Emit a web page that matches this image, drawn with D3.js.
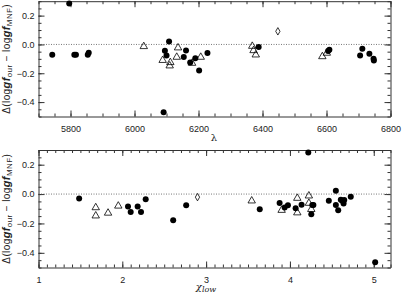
<!DOCTYPE html>
<html>
<head>
<meta charset="utf-8">
<script src="https://cdn.jsdelivr.net/npm/d3@7"></script>
<style>
  body { margin: 0; background: #fff; }
  svg { display: block; font-family: "Liberation Sans", Arial, sans-serif; }
  .axis text { font-size: 9px; fill: #222; }
  .axis path, .axis line { stroke: #333; }
</style>
</head>
<body>
<div id="chart"></div>
<script>
// top panel: wavelength vs difference
const lamCircles = [5743, 5796, 5812, 5817, 5854, 5857, 6091, 6095, 6100, 6108, 6154, 6161, 6174, 6190, 6202, 6228, 6388, 6605, 6609, 6705, 6712, 6734, 6747, 6748];
const lamCirclesD = [-0.072, 0.284, -0.072, -0.072, -0.072, -0.058, -0.470, -0.044, -0.077, 0.021, -0.088, -0.042, -0.125, -0.095, -0.181, -0.060, -0.018, -0.045, -0.037, -0.077, -0.030, -0.065, -0.100, -0.111];
const lamTriangles = [6029, 6088, 6110, 6112, 6132, 6136, 6180, 6207, 6368, 6372, 6379, 6587, 6601];
const lamTrianglesD = [-0.014, -0.110, -0.148, -0.125, -0.088, -0.023, -0.130, -0.088, -0.012, -0.042, -0.072, -0.084, -0.060];
const lamDiamonds = [6448];
const lamDiamondsD = [0.091];

// bottom panel: excitation potential vs difference
const chiCircles = [1.485, 2.068, 2.10, 2.183, 2.223, 2.279, 2.607, 2.762, 3.64, 3.877, 3.937, 3.976, 4.068, 4.139, 4.219, 4.255, 4.267, 4.28, 4.464, 4.548, 4.548, 4.576, 4.607, 4.624, 4.648, 4.64, 4.726, 5.017];
const chiCirclesD = [-0.030, -0.085, -0.122, -0.085, -0.122, -0.035, -0.179, -0.076, -0.104, -0.060, -0.092, -0.076, -0.097, -0.072, 0.283, -0.138, -0.074, -0.074, -0.046, 0.023, -0.074, -0.110, -0.039, -0.046, -0.041, -0.065, -0.019, -0.465];
const chiTriangles = [1.683, 1.683, 1.83, 1.952, 3.544, 3.901, 4.088, 4.088, 4.226, 4.226, 4.255];
const chiTrianglesD = [-0.092, -0.148, -0.129, -0.081, -0.046, -0.110, -0.028, -0.127, -0.012, -0.062, -0.104];
const chiDiamonds = [2.897];
const chiDiamondsD = [-0.021];

const yTicks = [-0.4, -0.2, 0.0, 0.2];
const lamTicks = [5800, 6000, 6200, 6400, 6600, 6800];
const chiTicks = [1, 2, 3, 4, 5];

const W = 402, H = 296;
const svg = d3.select("#chart").append("svg").attr("width", W).attr("height", H);

function minors(lo, hi, step){
    const out = [];
    for(let v = lo; v <= hi + 1e-9; v += step) out.push(+v.toFixed(4));
    return out;
}

function panel(cfg){
    const x = d3.scaleLinear().domain(cfg.xDomain).range([38.5, 390.5]);
    const y = d3.scaleLinear().domain([-0.5, 0.3]).range([cfg.bottom, cfg.top]);
    const g = svg.append("g");

    const yMinor = minors(-0.5, 0.3, 0.05);
    const xMinor = minors(cfg.xDomain[0], cfg.xDomain[1], cfg.xMinor);

    // bottom axis
    g.append("g").attr("class", "axis").attr("transform", `translate(0,${cfg.bottom})`)
      .call(d3.axisBottom(x).tickValues(xMinor).tickSizeInner(-3).tickSizeOuter(0).tickFormat(""));
    g.append("g").attr("class", "axis").attr("transform", `translate(0,${cfg.bottom})`)
      .call(d3.axisBottom(x).tickValues(cfg.xTicks).tickSizeInner(-6).tickSizeOuter(0).tickPadding(9).tickFormat(d3.format("d")))
      .call(a => a.select(".domain").remove());
    // top axis
    g.append("g").attr("class", "axis").attr("transform", `translate(0,${cfg.top})`)
      .call(d3.axisTop(x).tickValues(xMinor).tickSizeInner(-3).tickSizeOuter(0).tickFormat(""));
    g.append("g").attr("class", "axis").attr("transform", `translate(0,${cfg.top})`)
      .call(d3.axisTop(x).tickValues(cfg.xTicks).tickSizeInner(-6).tickSizeOuter(0).tickFormat(""))
      .call(a => a.select(".domain").remove());
    // left axis
    g.append("g").attr("class", "axis").attr("transform", "translate(38.5,0)")
      .call(d3.axisLeft(y).tickValues(yMinor).tickSizeInner(-3).tickSizeOuter(0).tickFormat(""));
    g.append("g").attr("class", "axis").attr("transform", "translate(38.5,0)")
      .call(d3.axisLeft(y).tickValues(yTicks).tickSizeInner(-6).tickSizeOuter(0).tickPadding(4).tickFormat(d => d3.format(".1f")(d).replace("-", "\u2212")))
      .call(a => a.select(".domain").remove());
    // right axis
    g.append("g").attr("class", "axis").attr("transform", "translate(390.5,0)")
      .call(d3.axisRight(y).tickValues(yMinor).tickSizeInner(-3).tickSizeOuter(0).tickFormat(""));
    g.append("g").attr("class", "axis").attr("transform", "translate(390.5,0)")
      .call(d3.axisRight(y).tickValues(yTicks).tickSizeInner(-6).tickSizeOuter(0).tickFormat(""))
      .call(a => a.select(".domain").remove());

    // zero line
    g.append("line")
      .attr("x1", x.range()[0]).attr("x2", x.range()[1])
      .attr("y1", y(0)).attr("y2", y(0))
      .attr("stroke", "#555").attr("stroke-width", 0.8).attr("stroke-dasharray", "1,1.5");

    g.selectAll(null).data(d3.zip(cfg.circ, cfg.circD)).enter()
      .append("circle")
      .attr("cx", d => x(d[0])).attr("cy", d => y(d[1])).attr("r", 3)
      .attr("fill", "#000");

    const tri = d3.symbol().type(d3.symbolTriangle).size(24);
    g.selectAll(null).data(d3.zip(cfg.tri, cfg.triD)).enter()
      .append("path")
      .attr("d", tri)
      .attr("transform", d => `translate(${x(d[0])},${y(d[1])})`)
      .attr("fill", "none").attr("stroke", "#000").attr("stroke-width", 0.8);

    const dia = d3.symbol().type(d3.symbolDiamond).size(16);
    g.selectAll(null).data(d3.zip(cfg.dia, cfg.diaD)).enter()
      .append("path")
      .attr("d", dia)
      .attr("transform", d => `translate(${x(d[0])},${y(d[1])})`)
      .attr("fill", "none").attr("stroke", "#000").attr("stroke-width", 0.8);

    // y label
    const cy = (cfg.top + cfg.bottom) / 2;
    const lab = g.append("text")
      .attr("transform", `translate(10,${cy}) rotate(-90)`)
      .attr("text-anchor", "middle")
      .attr("font-size", 10).attr("letter-spacing", 0.4).attr("fill", "#222");
    lab.append("tspan").text("\u0394(log");
    lab.append("tspan").attr("font-weight", "bold").attr("font-style", "italic").attr("font-size", 11).text("gf");
    lab.append("tspan").attr("font-size", 8).attr("dy", 2).text("our");
    lab.append("tspan").attr("dy", -2).text(" \u2212 log");
    lab.append("tspan").attr("font-weight", "bold").attr("font-style", "italic").attr("font-size", 11).text("gf");
    lab.append("tspan").attr("font-size", 8).attr("dy", 2).text("MNF");
    lab.append("tspan").attr("dy", -2).text(")");

    return g;
}

const topPanel = panel({
    xDomain: [5700, 6800], xTicks: lamTicks, xMinor: 50,
    top: 1.2, bottom: 116.5,
    circ: lamCircles, circD: lamCirclesD,
    tri: lamTriangles, triD: lamTrianglesD,
    dia: lamDiamonds, diaD: lamDiamondsD
});
topPanel.append("text").attr("x", 214).attr("y", 141).attr("text-anchor", "middle")
  .attr("font-size", 10).attr("font-family", "DejaVu Serif, serif").attr("fill", "#222").text("\u03bb");

const botPanel = panel({
    xDomain: [1, 5.2], xTicks: chiTicks, xMinor: 0.1,
    top: 150, bottom: 267.5,
    circ: chiCircles, circD: chiCirclesD,
    tri: chiTriangles, triD: chiTrianglesD,
    dia: chiDiamonds, diaD: chiDiamondsD
});
const xl = botPanel.append("text").attr("x", 206).attr("y", 290).attr("text-anchor", "middle")
  .attr("font-size", 10).attr("font-family", "DejaVu Serif, serif").attr("font-style", "italic").attr("fill", "#222");
xl.append("tspan").text("\u03c7");
xl.append("tspan").attr("font-size", 8).attr("dy", 2).text("low");
</script>
</body>
</html>
